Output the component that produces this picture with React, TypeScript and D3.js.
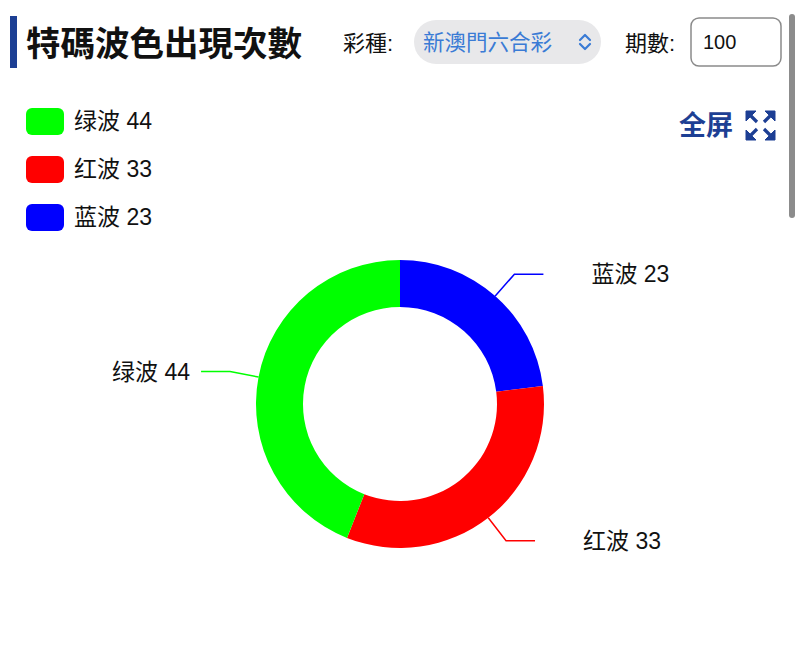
import { useMemo } from 'react'
import * as d3 from 'd3'

// pie order (clockwise from 12 o'clock)
const waveNames = ['蓝波', '红波', '绿波']
const waveCounts = [23, 33, 44]
const waveColors = ['#0000ff', '#ff0000', '#00ff00']
const legendOrder = ['绿波', '红波', '蓝波']

const title = '特碼波色出現次數'
const lotteryLabel = '彩種:'
const lotteryValue = '新澳門六合彩'
const periodLabel = '期數:'
const periodValue = '100'

const W = 800
const H = 658
const CJK_TC = '"Liberation Sans", "Noto Sans CJK TC", sans-serif'
const CJK_SC = '"Liberation Sans", "Noto Sans CJK SC", sans-serif'
const NAVY = '#1d3f94'

export default function App() {
  const cx = 400
  const cy = 404
  const outerR = 144
  const innerR = 97

  const arcs = useMemo(() => {
    const data = waveNames.map((name, i) => ({ name, value: waveCounts[i], color: waveColors[i] }))
    return d3.pie<typeof data[number]>().sort(null).value((d) => d.value)(data)
  }, [])

  const arcGen = d3.arc<d3.PieArcDatum<any>>().innerRadius(innerR).outerRadius(outerR)

  const labels = arcs.map((a) => {
    const mid = (a.startAngle + a.endAngle) / 2
    const p1: [number, number] = [Math.sin(mid) * outerR, -Math.cos(mid) * outerR]
    const p2: [number, number] = [Math.sin(mid) * (outerR + 29), -Math.cos(mid) * (outerR + 29)]
    const right = Math.sin(mid) >= 0
    const p3: [number, number] = [p2[0] + (right ? 29 : -29), p2[1]]
    const tx = right ? p3[0] + 48 : p3[0] - 11
    return { d: a.data, pts: [p1, p2, p3], right, tx, ty: p3[1] }
  })

  const lineGen = d3.line()

  return (
    <svg width={W} height={H} style={{ position: 'absolute', left: 0, top: 0, display: 'block', background: '#fff' }}>
      {/* header */}
      <rect x={10} y={16} width={7} height={52} fill={NAVY} />
      <text x={26} y={56} fontFamily={CJK_TC} fontSize={34.5} fontWeight={700} fill="#111">{title}</text>
      <text x={343} y={51} fontFamily={CJK_TC} fontSize={22} fill="#111">{lotteryLabel}</text>
      <rect x={414} y={20} width={187} height={44} rx={22} fill="#e8e8ea" />
      <text x={423} y={50} fontFamily={CJK_TC} fontSize={21.5} fill="#3a7bd5">{lotteryValue}</text>
      <path d="M580,40 L585,35 L590,40 M580,44 L585,49 L590,44" fill="none" stroke="#3a7bd5" strokeWidth={2.2} strokeLinecap="round" strokeLinejoin="round" />
      <text x={625} y={51} fontFamily={CJK_TC} fontSize={22} fill="#111">{periodLabel}</text>
      <rect x={691} y={18} width={90} height={48} rx={8} fill="#fff" stroke="#8a8a8a" strokeWidth={1.5} />
      <text x={703} y={49} fontFamily={CJK_SC} fontSize={20} fill="#111">{periodValue}</text>

      {/* scrollbar */}
      <rect x={789} y={14} width={6} height={204} rx={3} fill="#8c8c8c" />

      {/* legend */}
      {legendOrder.map((name, i) => {
        const k = waveNames.indexOf(name)
        const y = 108 + i * 48
        return (
          <g key={name}>
            <rect x={26} y={y} width={38} height={27} rx={6} fill={waveColors[k]} />
            <text x={74} y={y + 21} fontFamily={CJK_SC} fontSize={23} fill="#111">{`${name} ${waveCounts[k]}`}</text>
          </g>
        )
      })}

      {/* fullscreen */}
      <text x={679} y={135} fontFamily={CJK_SC} fontSize={27} fontWeight={600} fill={NAVY}>全屏</text>
      <g fill={NAVY} stroke={NAVY}>
        <path d="M746,111 L756,111 L746,121 Z" strokeWidth={1} />
        <path d="M775,111 L765,111 L775,121 Z" strokeWidth={1} />
        <path d="M746,140 L756,140 L746,130 Z" strokeWidth={1} />
        <path d="M775,140 L765,140 L775,130 Z" strokeWidth={1} />
        <path d="M748,113 L757,122 M773,113 L764,122 M748,138 L757,129 M773,138 L764,129" fill="none" strokeWidth={3.2} />
      </g>

      {/* donut */}
      <g transform={`translate(${cx},${cy})`}>
        {arcs.map((a) => (
          <path key={a.data.name} d={arcGen(a) ?? ''} fill={a.data.color} />
        ))}
        {labels.map((l) => (
          <g key={l.d.name}>
            <path d={lineGen(l.pts) ?? ''} fill="none" stroke={l.d.color} strokeWidth={1.5} />
            <text x={l.tx} y={l.ty} dy="0.35em" textAnchor={l.right ? 'start' : 'end'} fontFamily={CJK_SC} fontSize={23} fill="#111">
              {`${l.d.name} ${l.d.value}`}
            </text>
          </g>
        ))}
      </g>
    </svg>
  )
}
